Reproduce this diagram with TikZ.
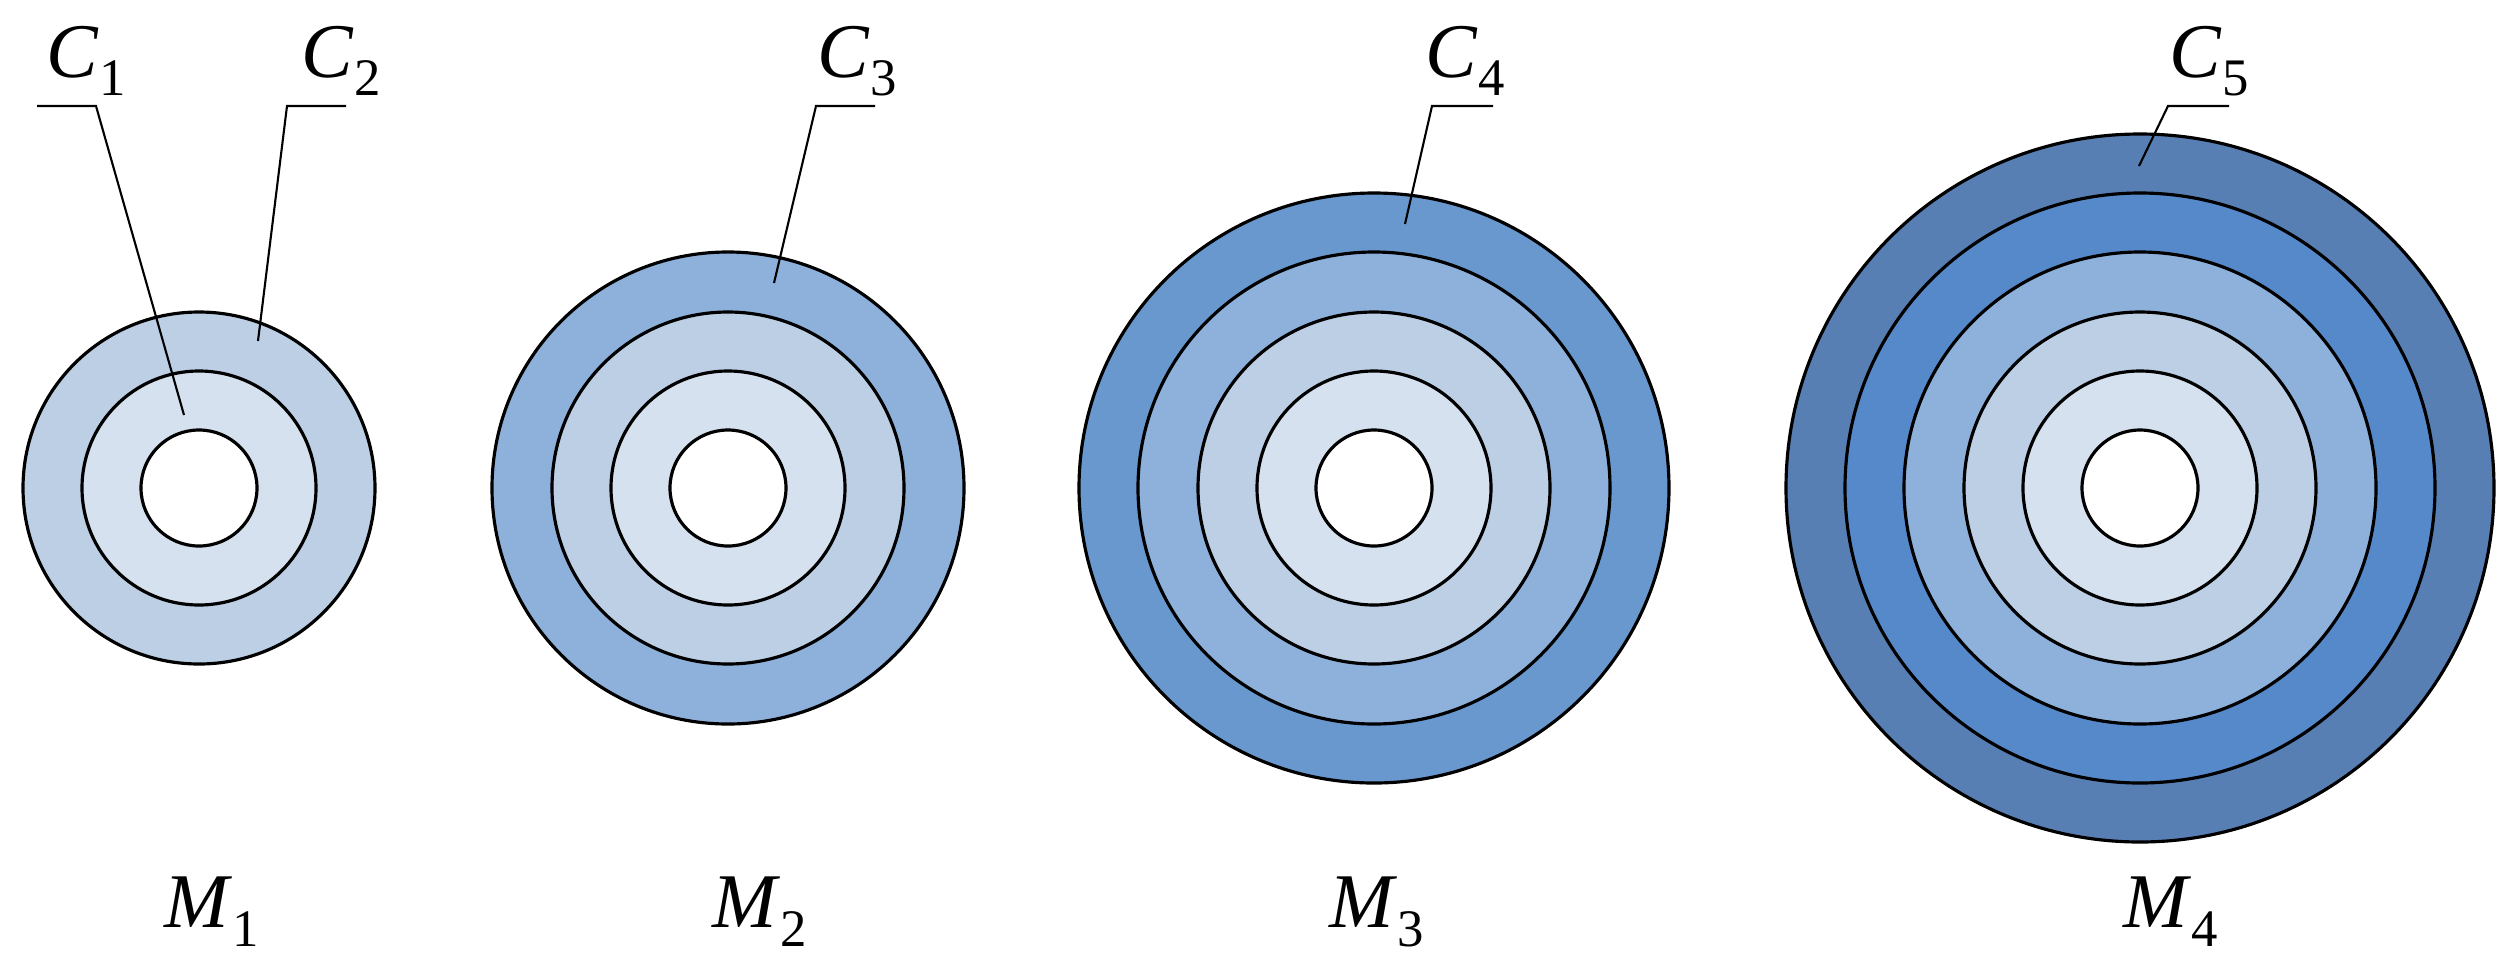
\documentclass[tikz,border=0pt]{standalone}
\usepackage{fontspec}
\setmainfont{Liberation Serif}
\definecolor{cA}{HTML}{D5E1EE}
\definecolor{cB}{HTML}{BDCFE4}
\definecolor{cC}{HTML}{8EB1DC}
\definecolor{cD}{HTML}{6898CE}
\definecolor{cDD}{HTML}{5589CA}
\definecolor{cE}{HTML}{577FB3}
\newcommand{\lbl}[2]{\fontsize{22}{26}\selectfont\textit{#1}\raisebox{-5.4pt}{\fontsize{15}{15}\selectfont #2}}
\tikzset{ring/.style={draw=black,line width=0.9pt},leader/.style={draw=black,line width=0.6pt},lab/.style={inner sep=0pt,anchor=base west}}
\begin{document}
\begin{tikzpicture}[x=0.01cm,y=-0.01cm]
\useasboundingbox (0,0) rectangle (2514,969);
% M1
\fill[ring,fill=cB] (199,488) circle (176);
\fill[ring,fill=cA] (199,488) circle (117);
\fill[ring,fill=white] (199,488) circle (58);
% M2
\fill[ring,fill=cC] (728,488) circle (236);
\fill[ring,fill=cB] (728,488) circle (176);
\fill[ring,fill=cA] (728,488) circle (117);
\fill[ring,fill=white] (728,488) circle (58);
% M3
\fill[ring,fill=cD] (1374,488) circle (295);
\fill[ring,fill=cC] (1374,488) circle (236);
\fill[ring,fill=cB] (1374,488) circle (176);
\fill[ring,fill=cA] (1374,488) circle (117);
\fill[ring,fill=white] (1374,488) circle (58);
% M4
\fill[ring,fill=cE] (2140,488) circle (354);
\fill[ring,fill=cDD] (2140,488) circle (295);
\fill[ring,fill=cC] (2140,488) circle (236);
\fill[ring,fill=cB] (2140,488) circle (176);
\fill[ring,fill=cA] (2140,488) circle (117);
\fill[ring,fill=white] (2140,488) circle (58);
% leaders
\coordinate (a1) at (37,106); \coordinate (b1) at (96,106); \coordinate (e1) at (184,415);
\coordinate (a2) at (346,106); \coordinate (b2) at (287,106); \coordinate (e2) at (258,341);
\coordinate (a3) at (875,106); \coordinate (b3) at (816,106); \coordinate (e3) at (774,283);
\coordinate (a4) at (1493,106); \coordinate (b4) at (1432,106); \coordinate (e4) at (1405,224);
\coordinate (a5) at (2229,106); \coordinate (b5) at (2168,106); \coordinate (e5) at (2139,166);
\draw[leader] (a1) -- (b1) -- (e1);
\draw[leader] (a2) -- (b2) -- (e2);
\draw[leader] (a3) -- (b3) -- (e3);
\draw[leader] (a4) -- (b4) -- (e4);
\draw[leader] (a5) -- (b5) -- (e5);
\node[lab] (C1) at (46,77) {\lbl{C}{1}};
\node[lab] (C2) at (301,77) {\lbl{C}{2}};
\node[lab] (C3) at (817,77) {\lbl{C}{3}};
\node[lab] (C4) at (1425,77) {\lbl{C}{4}};
\node[lab] (C5) at (2169,77) {\lbl{C}{5}};
\node[lab] (M1) at (164,927) {\lbl{M}{1}};
\node[lab] (M2) at (712,927) {\lbl{M}{2}};
\node[lab] (M3) at (1329,927) {\lbl{M}{3}};
\node[lab] (M4) at (2123,927) {\lbl{M}{4}};
\end{tikzpicture}
\end{document}
